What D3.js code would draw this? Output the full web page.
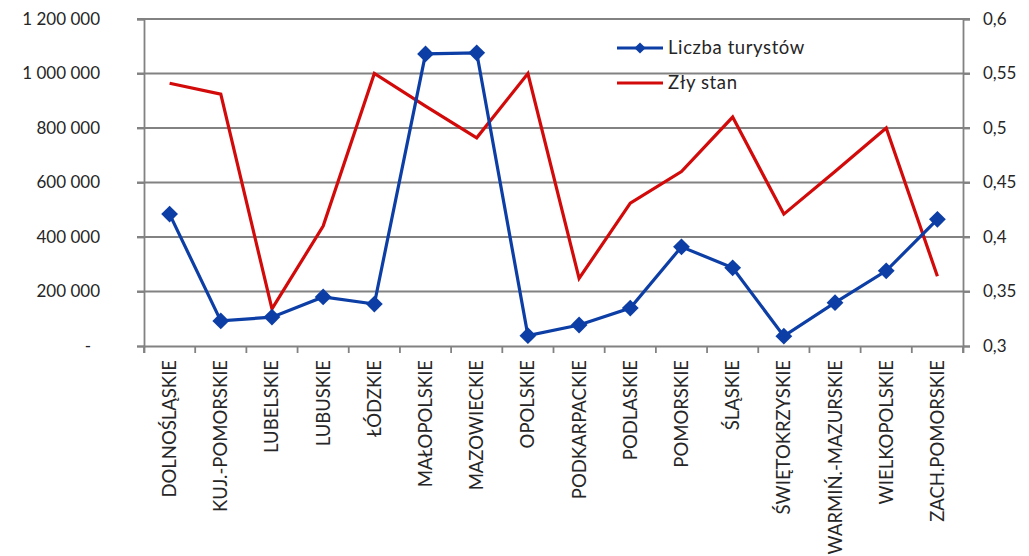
<!DOCTYPE html>
<html><head><meta charset="utf-8">
<script src="https://cdn.jsdelivr.net/npm/d3@7"></script>
<style>body{margin:0;background:#fff}svg{display:block}</style>
</head><body><svg id="c" width="1029" height="556"></svg>
<script>
const categories=["DOLNOŚLĄSKIE","KUJ.-POMORSKIE","LUBELSKIE","LUBUSKIE","ŁÓDZKIE","MAŁOPOLSKIE","MAZOWIECKIE","OPOLSKIE","PODKARPACKIE","PODLASKIE","POMORSKIE","ŚLĄSKIE","ŚWIĘTOKRZYSKIE","WARMIŃ.-MAZURSKIE","WIELKOPOLSKIE","ZACH.POMORSKIE"];
const tourists=[484000,92000,106000,180000,154000,1072000,1076000,38000,77000,139000,364000,287000,36000,159000,276000,465000];
const badState=[0.541,0.531,0.334,0.41,0.55,0.52,0.491,0.55,0.362,0.431,0.46,0.51,0.421,0.46,0.50,0.364];
const leftTicks=[0,200000,400000,600000,800000,1000000,1200000];
const rightTicks=[0.3,0.35,0.4,0.45,0.5,0.55,0.6];
const seriesNames=["Liczba turystów","Zły stan"];

const svg=d3.select("#c");
const L=144,R=963,T=19,B=346;
const font="Lato, 'Open Sans', sans-serif";
const x=d3.scaleBand().domain(categories).range([L,R]);
const yL=d3.scaleLinear().domain([0,1200000]).range([B,T]);
const yR=d3.scaleLinear().domain([0.3,0.6]).range([B,T]);
const grid="#828282";
const blue="#0c3ea6", red="#d20a0a";

// gridlines
svg.append("g").selectAll("line").data(leftTicks.slice(1)).join("line")
 .attr("x1",L-7).attr("x2",R+7).attr("y1",d=>yL(d)).attr("y2",d=>yL(d))
 .attr("stroke",grid).attr("stroke-width",1.8);

const fmtL=d=>d===0?"-":d3.format(",")(d).replace(/,/g," ");
const axL=d3.axisLeft(yL).tickValues(leftTicks).tickFormat(fmtL).tickSize(7).tickPadding(36);
const gL=svg.append("g").attr("transform",`translate(${L},0)`).call(axL);
const axR=d3.axisRight(yR).tickValues(rightTicks).tickFormat(d=>String(d).replace(".",",")).tickSize(7).tickPadding(13);
const gR=svg.append("g").attr("transform",`translate(${R},0)`).call(axR);
const axX=d3.axisBottom(x).tickSize(7).tickFormat(d=>d);
const gX=svg.append("g").attr("transform",`translate(0,${B})`).call(axX);
gX.selectAll(".tick line").attr("transform",`translate(${-x.bandwidth()/2},0)`);
gX.append("line").attr("x1",R).attr("x2",R).attr("y1",0).attr("y2",7).attr("stroke",grid).attr("stroke-width",1.8);
[gL,gR,gX].forEach(g=>{
 g.select(".domain").attr("stroke",grid).attr("stroke-width",1.8);
 g.selectAll(".tick line").attr("stroke",grid).attr("stroke-width",1.8);
 g.selectAll("text").attr("font-family",font).attr("font-size",17).attr("fill","#262626");
});
gL.selectAll(".tick text").attr("x",-44);
gL.selectAll(".tick").filter(d=>d===0).select("text").attr("x",-53);
gX.selectAll(".tick text").attr("transform","rotate(-90)").attr("text-anchor","end")
 .attr("x",-14).attr("y",0).attr("dy","0.35em").attr("font-size",18.5);

const cx=(i)=>x(categories[i])+x.bandwidth()/2;
svg.append("path").datum(badState).attr("fill","none").attr("stroke",red).attr("stroke-width",3.2)
 .attr("d",d3.line().x((d,i)=>cx(i)).y(d=>yR(d)));
svg.append("path").datum(tourists).attr("fill","none").attr("stroke",blue).attr("stroke-width",3.2)
 .attr("d",d3.line().x((d,i)=>cx(i)).y(d=>yL(d)));
const diamond=d3.symbol().type(d3.symbolDiamond2).size(180);
svg.append("g").selectAll("path").data(tourists).join("path")
 .attr("transform",(d,i)=>`translate(${cx(i)},${yL(d)})`)
 .attr("d",diamond).attr("fill",blue);

// legend
const lg=svg.append("g");
lg.append("line").attr("x1",617).attr("x2",663).attr("y1",48).attr("y2",48).attr("stroke",blue).attr("stroke-width",3.2);
lg.append("path").attr("transform","translate(640,48)").attr("d",d3.symbol().type(d3.symbolDiamond2).size(80)).attr("fill",blue);
lg.append("line").attr("x1",617).attr("x2",663).attr("y1",83).attr("y2",83).attr("stroke",red).attr("stroke-width",3.2);
lg.selectAll("text").data(seriesNames).join("text").attr("x",668).attr("y",(d,i)=>i?83:48).attr("dy","0.35em")
 .text(d=>d).attr("font-family",font).attr("font-size",18.5).attr("letter-spacing","0.6px").attr("fill","#262626");
</script></body></html>
